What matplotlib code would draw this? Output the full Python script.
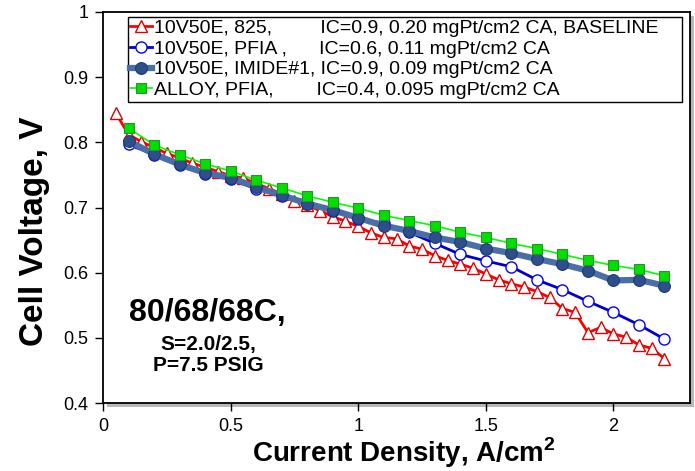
import matplotlib
matplotlib.use("Agg")
import matplotlib.pyplot as plt
from matplotlib.patches import Rectangle

plt.rcParams['font.family'] = ['Liberation Sans', 'DejaVu Sans']
plt.rcParams['mathtext.fontset'] = 'custom'
plt.rcParams['mathtext.rm'] = 'Liberation Sans'
plt.rcParams['mathtext.bf'] = 'Liberation Sans:bold'

# ---- data ----
x_baseline = [0.05, 0.10, 0.15, 0.20, 0.25, 0.30, 0.35, 0.40, 0.45, 0.50,
              0.55, 0.60, 0.65, 0.70, 0.75, 0.80, 0.85, 0.90, 0.95, 1.00,
              1.05, 1.10, 1.15, 1.20, 1.25, 1.30, 1.35, 1.40, 1.45, 1.50,
              1.55, 1.60, 1.65, 1.70, 1.75, 1.80, 1.85, 1.90, 1.95, 2.00,
              2.05, 2.10, 2.15, 2.20]
v_baseline = [0.845, 0.812, 0.801, 0.792, 0.783, 0.776, 0.768, 0.762, 0.755, 0.749,
              0.745, 0.737, 0.729, 0.721, 0.710, 0.704, 0.695, 0.686, 0.679, 0.671,
              0.661, 0.654, 0.652, 0.641, 0.636, 0.626, 0.619, 0.613, 0.607, 0.598,
              0.589, 0.583, 0.578, 0.571, 0.562, 0.545, 0.539, 0.508, 0.516, 0.506,
              0.501, 0.489, 0.484, 0.468]

x_tenth = [0.1, 0.2, 0.3, 0.4, 0.5, 0.6, 0.7, 0.8, 0.9, 1.0, 1.1,
           1.2, 1.3, 1.4, 1.5, 1.6, 1.7, 1.8, 1.9, 2.0, 2.1, 2.2]
v_pfia = [0.797, 0.781, 0.765, 0.752, 0.743, 0.729, 0.717, 0.705, 0.694, 0.683, 0.676,
          0.662, 0.645, 0.628, 0.618, 0.609, 0.589, 0.574, 0.556, 0.539, 0.520, 0.498]
v_imide = [0.802, 0.782, 0.766, 0.753, 0.746, 0.731, 0.719, 0.706, 0.696, 0.684, 0.672,
           0.664, 0.654, 0.647, 0.637, 0.630, 0.621, 0.613, 0.603, 0.588, 0.589, 0.580]
v_alloy = [0.822, 0.796, 0.781, 0.767, 0.756, 0.742, 0.730, 0.718, 0.708, 0.699, 0.688,
           0.680, 0.672, 0.662, 0.654, 0.645, 0.637, 0.628, 0.619, 0.611, 0.605, 0.595]

labels = [
    "10V50E, 825,         IC=0.9, 0.20 mgPt/cm2 CA, BASELINE    ",
    "10V50E, PFIA ,      IC=0.6, 0.11 mgPt/cm2 CA",
    "10V50E, IMIDE#1, IC=0.9, 0.09 mgPt/cm2 CA",
    "ALLOY, PFIA,        IC=0.4, 0.095 mgPt/cm2 CA",
]
x_ticks = [0, 0.5, 1, 1.5, 2]
x_ticklabels = ["0", "0.5", "1", "1.5", "2"]
y_ticks = [0.4, 0.5, 0.6, 0.7, 0.8, 0.9, 1.0]
y_ticklabels = ["0.4", "0.5", "0.6", "0.7", "0.8", "0.9", "1"]

# ---- figure ----
W, H = 695, 471
fig = plt.figure(figsize=(W / 100, H / 100), dpi=100)
L, R, T, B = 103, 690, 12, 403

# shadow behind the plot frame
shadow = Rectangle(((L + 4) / W, 1 - (B + 4) / H), (R - L) / W, (B - T) / H,
                   transform=fig.transFigure, facecolor='#b8b8b8', edgecolor='none',
                   zorder=-5)
fig.patches.append(shadow)

ax = fig.add_axes([L / W, 1 - B / H, (R - L) / W, (B - T) / H], zorder=1)
ax.set_facecolor('white')

ax.plot(x_baseline, v_baseline, color='#ff0000', lw=2.0, marker='^', ms=8.5,
        mfc='white', mec='#e00000', mew=1.0, label=labels[0], zorder=3)
ax.plot(x_tenth, v_pfia, color='#0000cc', lw=2.0, marker='o', ms=8,
        mfc='white', mec='#0000ff', mew=1.0, label=labels[1], zorder=4)
ax.plot(x_tenth, v_imide, color='#4a6fa8', lw=4.5, marker='o', ms=8.5,
        mfc='#2e4f8c', mec='#1f3a70', mew=0.8, label=labels[2], zorder=5)
ax.plot(x_tenth, v_alloy, color='#00ff00', lw=1.2, marker='s', ms=7.5,
        mfc='#00e000', mec='#2f8f2f', mew=0.8, label=labels[3], zorder=6)

ax.set_xlim(0, 2.3)
ax.set_ylim(0.4, 1.0)
ax.set_xticks(x_ticks)
ax.set_xticklabels(x_ticklabels)
ax.set_yticks(y_ticks)
ax.set_yticklabels(y_ticklabels)
ax.tick_params(axis='both', direction='out', length=5.5, width=1.0,
               labelsize=13, pad=5, colors='black')
for s in ax.spines.values():
    s.set_linewidth(1.3)
    s.set_color('black')

xl = ax.set_xlabel(r"Current Density, A/cm$^{\mathbf{2}}$", fontsize=20,
                   fontweight='bold', va='baseline')
ax.xaxis.set_label_coords(0.513, -0.151)
ax.set_ylabel("Cell Voltage, V", fontsize=24, fontweight='bold')
ax.yaxis.set_label_coords(-0.09, 0.44)

leg = ax.legend(loc='upper left', bbox_to_anchor=(0.0426, 0.987), fontsize=14,
                frameon=True, fancybox=False, shadow=False, framealpha=1,
                edgecolor='black', borderpad=0.12, labelspacing=0.16,
                handlelength=1.1, handletextpad=0.1, borderaxespad=0)
leg.get_frame().set_linewidth(1.0)

ax.text(0.177, 0.2105, "80/68/68C,", transform=ax.transAxes,
        fontsize=23, fontweight='bold', ha='center', va='baseline')
ax.text(0.179, 0.1355, "S=2.0/2.5,", transform=ax.transAxes,
        fontsize=15, fontweight='bold', ha='center', va='baseline')
ax.text(0.179, 0.0818, "P=7.5 PSIG", transform=ax.transAxes,
        fontsize=15, fontweight='bold', ha='center', va='baseline')

fig.savefig("out.png", dpi=100, facecolor='white')
